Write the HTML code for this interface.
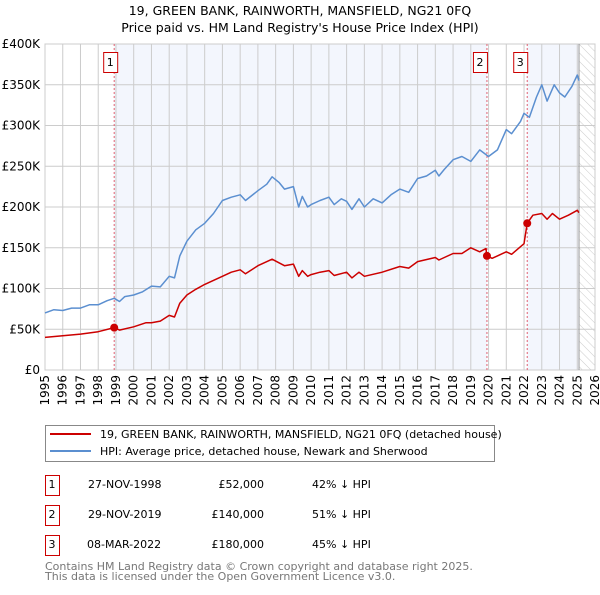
<!DOCTYPE html>
<html><head><meta charset="utf-8"><style>
body{margin:0;background:#fff;font-family:"Liberation Sans","DejaVu Sans",sans-serif;}
#wrap{position:relative;width:600px;height:590px;}
</style></head><body>
<div id="wrap">
<svg id="svg" width="600" height="590" xmlns="http://www.w3.org/2000/svg" font-family="DejaVu Sans, Liberation Sans, sans-serif">
<defs><pattern id="hatch" width="6" height="6" patternUnits="userSpaceOnUse" patternTransform="rotate(-45)"><line x1="0" y1="0" x2="0" y2="6" stroke="#ccc" stroke-width="1"/></pattern></defs>
<text x="300" y="15" text-anchor="middle" font-size="12.5">19, GREEN BANK, RAINWORTH, MANSFIELD, NG21 0FQ</text>
<text x="300" y="32" text-anchor="middle" font-size="12.5">Price paid vs. HM Land Registry's House Price Index (HPI)</text>
<g id="plot"></g>
<g>
<rect x="45.5" y="425.5" width="449" height="36" fill="#fff" stroke="#888"/>
<line x1="50" y1="434" x2="91" y2="434" stroke="#cc0000" stroke-width="2"/>
<text x="100" y="438" font-size="11">19, GREEN BANK, RAINWORTH, MANSFIELD, NG21 0FQ (detached house)</text>
<line x1="50" y1="451" x2="91" y2="451" stroke="#5b8fd0" stroke-width="2"/>
<text x="100" y="455" font-size="11">HPI: Average price, detached house, Newark and Sherwood</text>
</g>
<g font-size="11">
<rect x="45.5" y="475.5" width="14" height="20" fill="#fff" stroke="#cc0000"/><text x="52" y="488" text-anchor="middle">1</text>
<text x="88" y="488">27-NOV-1998</text><text x="264" y="488" text-anchor="end">£52,000</text><text x="312" y="488">42% ↓ HPI</text>
<rect x="45.5" y="505.5" width="14" height="20" fill="#fff" stroke="#cc0000"/><text x="52" y="518" text-anchor="middle">2</text>
<text x="88" y="518">29-NOV-2019</text><text x="264" y="518" text-anchor="end">£140,000</text><text x="312" y="518">51% ↓ HPI</text>
<rect x="45.5" y="535.5" width="14" height="20" fill="#fff" stroke="#cc0000"/><text x="52" y="548" text-anchor="middle">3</text>
<text x="87" y="548">08-MAR-2022</text><text x="264" y="548" text-anchor="end">£180,000</text><text x="312" y="548">45% ↓ HPI</text>
</g>
<text x="45" y="570" font-size="11" fill="#777">Contains HM Land Registry data © Crown copyright and database right 2025.</text>
<text x="45" y="580" font-size="11" fill="#777">This data is licensed under the Open Government Licence v3.0.</text>
</svg>
</div>
<script>
const hpiYears=[1995,1995.5,1996,1996.5,1997,1997.5,1998,1998.5,1998.9,1999.2,1999.5,2000,2000.5,2001,2001.5,2002,2002.3,2002.6,2003,2003.5,2004,2004.5,2005,2005.5,2006,2006.3,2007,2007.5,2007.8,2008.2,2008.5,2009,2009.3,2009.5,2009.8,2010,2010.5,2011,2011.3,2011.7,2012,2012.3,2012.7,2013,2013.5,2014,2014.5,2015,2015.5,2016,2016.5,2017,2017.2,2017.5,2018,2018.5,2019,2019.5,2020,2020.5,2021,2021.3,2021.8,2022,2022.3,2022.7,2023,2023.3,2023.7,2024,2024.3,2024.7,2025,2025.1];
const hpiValues=[70,74,73,76,76,80,80,85,88,84,90,92,96,103,102,115,113,140,158,172,180,192,208,212,215,208,220,228,237,230,222,225,200,213,200,203,208,212,203,210,207,197,210,200,210,205,215,222,218,235,238,245,238,246,258,262,256,270,262,270,295,290,305,315,310,335,350,330,350,340,335,348,362,355];
const ppYears=[1995,1996,1997,1998,1998.9,1999.2,2000,2000.7,2001,2001.5,2002,2002.3,2002.6,2003,2003.5,2004,2005,2005.5,2006,2006.3,2007,2007.8,2008.5,2009,2009.3,2009.5,2009.8,2010,2010.5,2011,2011.3,2012,2012.3,2012.7,2013,2014,2015,2015.5,2016,2017,2017.2,2018,2018.5,2019,2019.5,2019.85,2019.91,2020.2,2020.5,2021,2021.3,2022,2022.18,2022.5,2023,2023.3,2023.6,2024,2024.5,2025,2025.1];
const ppValues=[40,42,44,47,52,49,53,58,58,60,67,65,82,92,99,105,115,120,123,118,128,136,128,130,115,122,115,117,120,122,116,120,113,120,115,120,127,125,133,138,135,143,143,150,145,149,140,137,140,145,142,155,180,190,192,185,192,185,190,196,193];
const saleYears=[1998.9,2019.91,2022.18];
const saleValues=[52,140,180];
const saleLabels=["1","2","3"];
const yTicks=[0,50,100,150,200,250,300,350,400];
const yTickLabels=["£0","£50K","£100K","£150K","£200K","£250K","£300K","£350K","£400K"];
const xTicks=[1995,1996,1997,1998,1999,2000,2001,2002,2003,2004,2005,2006,2007,2008,2009,2010,2011,2012,2013,2014,2015,2016,2017,2018,2019,2020,2021,2022,2023,2024,2025,2026];

const X0=45,X1=595,Y0=370,Y1=44;
const xs=y=>X0+(y-1995)/(2026-1995)*(X1-X0);
const ys=v=>Y0-v/400*(Y0-Y1);
const NS="http://www.w3.org/2000/svg";
const plot=document.getElementById('plot');
function mk(tag,attrs,parent){const e=document.createElementNS(NS,tag);for(const k in attrs)e.setAttribute(k,attrs[k]);(parent||plot).appendChild(e);return e;}

let r=mk('rect',{x:xs(saleYears[0]),y:Y1,width:xs(saleYears[1])-xs(saleYears[0]),height:Y0-Y1,fill:'#eef2fc',opacity:0.7});


r=mk('rect',{x:xs(saleYears[2]),y:Y1,width:xs(2025.1)-xs(saleYears[2]),height:Y0-Y1,fill:'#eef2fc',opacity:0.7});


r=mk('rect',{x:xs(2025.1),y:Y1,width:X1-xs(2025.1),height:Y0-Y1,fill:'url(#hatch)'});



yTicks.forEach((t,i)=>{
 const l=mk('line',{x1:X0,x2:X1,y1:ys(t),y2:ys(t),stroke:'#ccc','stroke-width':1});
 
 
 const tx=mk('text',{x:40,y:ys(t)+4,'text-anchor':'end','font-size':'12'});
 tx.textContent=yTickLabels[i];
 
 
});
xTicks.forEach(t=>{
 const l=mk('line',{x1:xs(t),x2:xs(t),y1:Y1,y2:Y0,stroke:'#ccc','stroke-width':1});
 
 
 const tx=mk('text',{x:0,y:0,'text-anchor':'end','font-size':'12',transform:`translate(${xs(t)+4},375) rotate(-90)`});
 tx.textContent=t;
 
 
});
const b=mk('rect',{x:X0,y:Y1,width:X1-X0,height:Y0-Y1,fill:'none',stroke:'#ccc'});


const nowl=mk('line',{x1:xs(2025.1),x2:xs(2025.1),y1:Y1,y2:Y0,stroke:'#999','stroke-width':1});



saleYears.forEach((s,i)=>{
 const l=mk('line',{x1:xs(s),x2:xs(s),y1:Y1,y2:Y0,stroke:'#e06070','stroke-width':1,'stroke-dasharray':'2,2'});
 
 
});

function path(xsArr,vals,color,name){
 const d=xsArr.map((y,i)=>(i?'L':'M')+xs(y).toFixed(1)+','+ys(vals[i]).toFixed(1)).join('');
 const p=mk('path',{d:d,fill:'none',stroke:color,'stroke-width':1.5,'stroke-linejoin':'round'});
 
 
}
path(hpiYears,hpiValues,'#5b8fd0','hpi-line');
path(ppYears,ppValues,'#cc0000','price-paid-line');

saleYears.forEach((s,i)=>{
 const c=mk('circle',{cx:xs(s),cy:ys(saleValues[i]),r:4,fill:'#cc0000'});
 
 
 const bx=xs(s)-(i===0?4:7)-7;
 const rr=mk('rect',{x:bx+0.5,y:52.5,width:14,height:20,fill:'#fff',stroke:'#cc0000'});
 
 
 const tx=mk('text',{x:bx+7,y:66,'text-anchor':'middle','font-size':'11'});
 tx.textContent=saleLabels[i];
 
 
});
</script>
</body></html>
